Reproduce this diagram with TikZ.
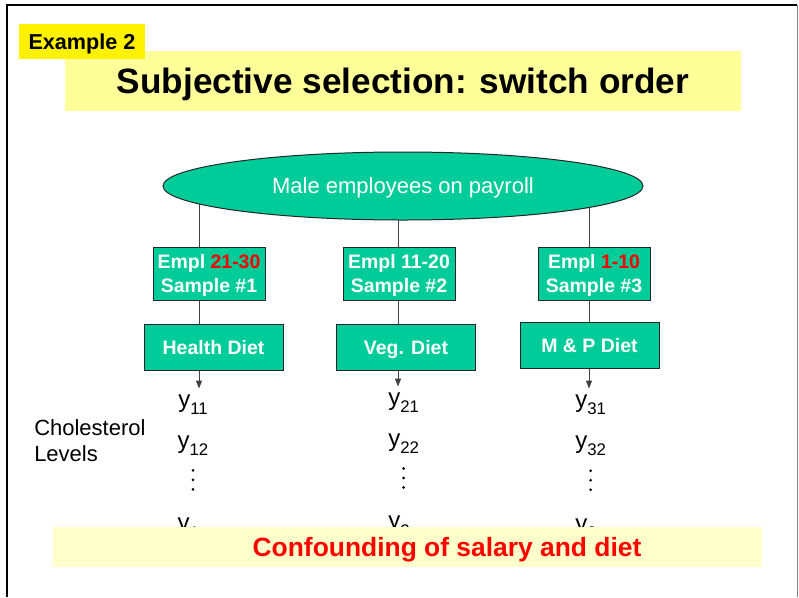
\documentclass[tikz,border=0pt]{standalone}
\usepackage{fontspec}
\setmainfont{Liberation Sans}
\usetikzlibrary{positioning,shapes.geometric,backgrounds,arrows.meta}

\definecolor{paygreen}{HTML}{00CC99}
\definecolor{titleyellow}{HTML}{FFFF99}
\definecolor{bandyellow}{HTML}{FFFFCC}

\newcommand{\yobs}[1]{y\raisebox{-5.6pt}{\fontsize{12.6}{14}\selectfont #1}}

\tikzset{
	greenbox/.style={draw=black!85, line width=0.75pt, fill=paygreen, text=white, font=\fontsize{14.6}{18}\selectfont\bfseries, align=center, inner sep=0pt, text depth=0pt},
	samplebox/.style={greenbox, minimum width=84pt, minimum height=39.75pt},
	dietbox/.style={greenbox, minimum width=104.25pt, minimum height=34.5pt},
	obs/.style={anchor=base west, inner xsep=0pt, inner ysep=4.5pt, font=\fontsize{18}{20}\selectfont},
	link/.style={draw=black!75, line width=0.75pt},
	down/.style={link, -{Triangle[length=6pt, width=4.5pt]}},
}

\begin{document}
\begin{tikzpicture}[x=0.75pt, y=-0.75pt]
	\useasboundingbox (0,0) rectangle (799,597);
	\draw[line width=1.5pt] (7,597) -- (7,5) -- (797,5);
	\draw[gray, line width=0.75pt] (797,5) -- (797,597);
	
	\node[fill=titleyellow, minimum width=507pt, minimum height=45pt, inner sep=0pt, text depth=0pt, font=\fontsize{26.4}{30}\selectfont\bfseries] (title) at (403,81) {Subjective selection: switch order};
	\node[fill=yellow, minimum width=94.5pt, minimum height=26.25pt, inner sep=0pt, text depth=0pt, font=\fontsize{16.2}{19}\selectfont\bfseries] (ex) at (82,41.5) {Example 2};
	
	\coordinate (c1) at (199,0);
	\coordinate (c2) at (398,0);
	\coordinate (c3) at (589,0);
	
	\node[ellipse, draw=black!85, line width=0.75pt, fill=paygreen, text=white, minimum width=360pt, minimum height=51pt, inner sep=0pt, text depth=0pt, font=\fontsize{16.5}{19}\selectfont] (pay) at (403,186) {Male employees on payroll};
	
	\node[samplebox] (s1) at (209,273.5) {Empl \textcolor{red}{21-30}\\Sample \#1};
	\node[samplebox] (s2) at (399,273.5) {Empl 11-20\\Sample \#2};
	\node[samplebox] (s3) at (594,273.5) {Empl \textcolor{red}{1-10}\\Sample \#3};
	
	\node[dietbox] (d1) at (213.5,347) {Health Diet};
	\node[dietbox] (d2) at (406,347) {Veg. Diet};
	\node[dietbox] (d3) at (589.5,345.5) {M \& P Diet};
	
	\node[obs] (y11) at (178,407.5) {\yobs{11}};
	\node[obs, below=6pt of y11] (y12) {\yobs{12}};
	\coordinate[below=13.5pt of y12] (v1);
	\node[obs, below=24pt of v1] (y1n) {\yobs{1n}};
	
	\node[obs] (y21) at (388,405.5) {\yobs{21}};
	\node[obs, below=6pt of y21] (y22) {\yobs{22}};
	\coordinate[below=13.5pt of y22] (v2);
	\node[obs, below=24pt of v2] (y2n) {\yobs{2n}};
	
	\node[obs] (y31) at (575,407.5) {\yobs{31}};
	\node[obs, below=6pt of y31] (y32) {\yobs{32}};
	\coordinate[below=13.5pt of y32] (v3);
	\node[obs, below=24pt of v3] (y3n) {\yobs{3n}};
	
	\fill (v1) +(0,-9.5) circle[radius=1.1pt] (v1) circle[radius=1.1pt] (v1) +(0,9.5) circle[radius=1.1pt];
	\fill (v2) +(0,-9.5) circle[radius=1.1pt] (v2) circle[radius=1.1pt] (v2) +(0,9.5) circle[radius=1.1pt];
	\fill (v3) +(0,-9.5) circle[radius=1.1pt] (v3) circle[radius=1.1pt] (v3) +(0,9.5) circle[radius=1.1pt];
	
	\node[anchor=west, inner sep=0pt, align=left, font=\fontsize{16.5}{19.5}\selectfont] (chol) at (34,441) {Cholesterol\\Levels};
	
	\begin{scope}[on background layer]
		\draw[link] (pay.center -| c1) -- (s1.north -| c1);
		\draw[link] (pay.center -| c2) -- (s2.north -| c2);
		\draw[link] (pay.center -| c3) -- (s3.north -| c3);
		\draw[link] (s1.south -| c1) -- (d1.north -| c1);
		\draw[link] (s2.south -| c2) -- (d2.north -| c2);
		\draw[link] (s3.south -| c3) -- (d3.north -| c3);
	\end{scope}
	
	\draw[down] (d1.south -| c1) -- (y11.north -| c1);
	\draw[down] (d2.south -| c2) -- (y21.north -| c2);
	\draw[down] (d3.south -| c3) -- (y31.north -| c3);
	
	\node[fill=bandyellow, minimum width=531.75pt, minimum height=30pt, inner sep=0pt] (band) at (407.5,547) {};
	\node[text=red, text depth=0pt, inner sep=0pt, font=\fontsize{19.8}{23}\selectfont\bfseries] (conf) at (447,547) {Confounding of salary and diet};
\end{tikzpicture}
\end{document}
